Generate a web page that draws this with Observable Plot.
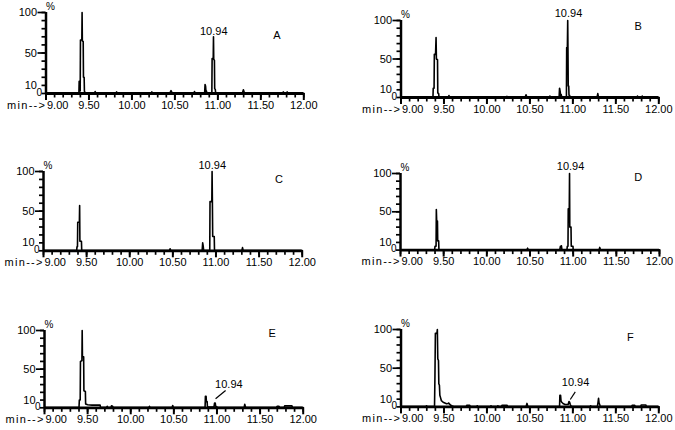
<!DOCTYPE html>
<html>
<head>
<meta charset="utf-8">
<script src="https://cdn.jsdelivr.net/npm/d3@7"></script>
<script src="https://cdn.jsdelivr.net/npm/@observablehq/plot@0.6"></script>
<style>
  body { margin: 0; background: #fff; }
  #chart { position: relative; width: 675px; height: 430px; overflow: hidden; background: #fff; }
  #chart svg { position: absolute; overflow: visible; }
</style>
</head>
<body>
<div id="chart"></div>
<script>
// ---------- data ----------
const panelLetters = ["A", "B", "C", "D", "E", "F"];
const xStartTick = 9.0;
const xLabelTicks = [9.5, 10.0, 10.5, 11.0, 11.5, 12.0];
const xMajorTicks = [9.0, 9.5, 10.0, 10.5, 11.0, 11.5, 12.0];
const xMinorTicks = [9.0, 9.1, 9.2, 9.3, 9.4, 9.5, 9.6, 9.7, 9.8, 9.9, 10.0, 10.1, 10.2, 10.3, 10.4, 10.5, 10.6, 10.7, 10.8, 10.9, 11.0, 11.1, 11.2, 11.3, 11.4, 11.5, 11.6, 11.7, 11.8, 11.9, 12.0];
const yLabelTicks = [10, 50, 100];
const yZeroTick = [0];
const yMajorTicks = [50, 100];
const yMinorTicks = [0, 10, 20, 30, 40, 50, 60, 70, 80, 90, 100];
const peakLabel = "10.94";
const xPrefix = "min-->";

// chromatogram traces: [retention time (min), relative abundance (%)]
const traceA = [[9.00,0.3],[9.383,0.3],[9.386,15],[9.392,15],[9.395,3],[9.398,3],[9.401,66],[9.417,66],[9.420,100],[9.423,65],[9.433,64],[9.436,20],[9.444,20],[9.447,3],[9.455,1],[9.463,0.3],
  [9.565,0.3],[9.572,2.5],[9.58,0.3],[9.815,0.3],[9.822,2],[9.83,0.3],[10.225,0.3],[10.232,2],[10.24,0.3],
  [10.44,0.3],[10.455,3.5],[10.47,0.3],[10.72,0.3],[10.728,2.5],[10.736,0.3],
  [10.846,0.5],[10.851,11],[10.857,9],[10.862,2],[10.867,3],[10.873,0.3],
  [10.930,0.5],[10.933,43],[10.946,43],[10.949,70],[10.952,42],[10.960,41],[10.963,6],[10.970,5],[10.974,1],[10.98,0.3],
  [11.285,0.3],[11.297,4.5],[11.31,0.3],[11.755,0.3],[11.762,2],[11.769,0.3],[11.80,0.3],[11.807,2],[11.814,0.3],[12.00,0.3]];

const traceB = [[9.00,0.3],[9.372,0.3],[9.375,12],[9.385,12],[9.388,56],[9.402,56],[9.408,78],[9.412,50],[9.425,49],[9.428,6],[9.438,5],[9.442,1],[9.45,0.3],
  [9.55,0.3],[9.558,2.5],[9.566,0.3],[10.225,0.3],[10.232,1.5],[10.24,0.3],[10.445,0.3],[10.455,3.5],[10.465,0.3],
  [10.725,0.3],[10.732,2],[10.74,0.3],[10.84,0.5],[10.845,12],[10.852,8],[10.858,2],[10.864,4],[10.87,0.5],
  [10.925,0.5],[10.928,65],[10.936,65],[10.940,100],[10.943,64],[10.946,15],[10.952,15],[10.955,3],[10.962,3],[10.965,0.3],
  [11.282,0.3],[11.29,5],[11.298,0.3],[11.745,0.3],[11.752,2],[11.759,0.3],[11.80,0.3],[11.807,2],[11.814,0.3],[12.00,0.3]];

const traceC = [[9.00,0.3],[9.385,0.3],[9.388,5],[9.394,5],[9.397,36],[9.416,36],[9.419,57],[9.422,12],[9.440,12],[9.443,1],[9.45,0.3],
  [10.46,0.3],[10.468,2.5],[10.476,0.3],[10.84,0.5],[10.846,10],[10.852,6],[10.857,1],[10.863,0.3],
  [10.928,0.5],[10.931,62],[10.952,62],[10.955,100],[10.958,68],[10.962,18],[10.980,18],[10.983,1],[10.99,0.3],
  [11.30,0.3],[11.308,4],[11.316,0.3],[12.00,0.3]];

const traceD = [[9.00,0.3],[9.395,0.3],[9.40,5],[9.412,5],[9.415,53],[9.419,38],[9.428,38],[9.431,12],[9.442,12],[9.445,1],[9.45,0.3],
  [10.465,0.3],[10.472,2.5],[10.48,0.3],[10.845,0.3],[10.852,5],[10.858,3],[10.864,5.5],[10.87,0.3],
  [10.928,0.3],[10.932,5],[10.94,5],[10.943,54],[10.955,54],[10.958,100],[10.961,30],[10.975,30],[10.978,5],[10.998,5],[11.0,0.3],
  [11.30,0.3],[11.308,3.5],[11.316,0.3],[12.00,0.3]];

const traceE = [[9.00,0.3],[9.40,0.3],[9.404,10],[9.414,10],[9.417,60],[9.434,61],[9.437,100],[9.440,66],[9.454,66],[9.457,22],[9.474,21],[9.477,5],[9.50,4],[9.55,3.5],[9.60,3.5],[9.645,3.5],[9.65,0.3],
  [9.72,0.3],[9.727,2],[9.734,0.3],[9.77,0.3],[9.777,2.5],[9.79,2],[9.797,0.3],[10.21,0.3],[10.217,2],[10.224,0.3],
  [10.48,0.3],[10.487,3],[10.494,0.3],
  [10.862,0.5],[10.866,15],[10.874,15],[10.877,8],[10.886,8],[10.889,2],[10.90,1],[10.965,1],[10.972,6],[10.980,6],[10.985,2],[11.0,1],[11.01,0.3],
  [11.315,0.3],[11.322,4.5],[11.33,1],[11.34,0.3],[11.69,0.3],[11.697,2],[11.72,2],[11.727,0.3],[11.78,0.3],[11.785,2.5],[11.87,2.5],[11.875,0.3],[12.00,0.3]];

const traceF = [[9.00,0.3],[9.29,0.3],[9.297,1.5],[9.304,0.3],[9.39,0.3],[9.395,40],[9.40,95],[9.418,95],[9.423,100],[9.428,62],[9.436,60],[9.44,30],[9.447,28],[9.452,15],[9.46,12],[9.47,8],[9.49,6],[9.51,5],[9.53,4],[9.545,4.5],[9.555,5],[9.565,3.5],[9.58,2],[9.60,1],[9.62,0.3],
  [9.76,0.3],[9.765,2],[9.80,2],[9.805,0.3],[9.88,0.3],[9.887,1.5],[9.894,0.3],[10.04,0.3],[10.047,1.5],[10.054,0.3],
  [10.12,0.3],[10.127,1.5],[10.134,0.3],[10.17,0.3],[10.175,2],[10.235,2],[10.24,0.3],[10.455,0.3],[10.466,4.5],[10.477,0.3],
  [10.845,0.5],[10.849,15],[10.857,15],[10.862,8],[10.87,6],[10.88,5],[10.89,4],[10.91,3],[10.945,3],[10.955,7],[10.962,6],[10.97,3],[10.98,1],[10.99,0.3],
  [11.2,0.3],[11.207,1.5],[11.214,0.3],[11.285,0.3],[11.293,6],[11.299,11],[11.305,5],[11.315,2],[11.325,0.3],
  [11.685,0.3],[11.69,2],[11.72,2],[11.725,0.3],[11.79,0.3],[11.795,2.5],[11.85,2.5],[11.855,0.3],[12.00,0.3]];

const traces = [traceA, traceB, traceC, traceD, traceE, traceF];

// annotation anchor points in data space [time, %]
const peakLabelPos = [[10.952, 76.5], [10.949, 109], [10.957, 107], [10.970, 108.7], [11.138, 30.1], [11.031, 31.5]];
const letterPos = [[11.687, 71.6], [11.760, 92.6], [11.730, 90.4], [11.754, 94.8], [11.640, 95.7], [11.669, 89.7]];
const leaderLines = [null, null, null, null, [10.984, 11.6, 11.10, 22.4], [10.97, 9.6, 11.028, 19.4]];

// ---------- layout (pixel geometry of each panel) ----------
const layout = [
  {left: 0,   x9: 45.5, x12: 303.3, y0: 93,    y100: 12},
  {left: 338, x9: 400.5, x12: 658.3, y0: 97,   y100: 20},
  {left: 0,   x9: 43,   x12: 301.7, y0: 250,   y100: 170.7},
  {left: 338, x9: 400,  x12: 659,   y0: 249.3, y100: 172.7},
  {left: 0,   x9: 44,   x12: 302.7, y0: 407.3, y100: 330},
  {left: 338, x9: 400.5, x12: 658.3, y0: 406.7, y100: 329.3}
];

const font = "'Liberation Sans', Arial, Helvetica, sans-serif";
const container = document.getElementById("chart");

function panel(i) {
  const g = layout[i];
  const W = 337, padTop = 22, padBottom = 24;
  const top = g.y100 - padTop;
  const height = (g.y0 - g.y100) + padTop + padBottom;
  const data = traces[i].map(([t, v]) => ({t, v}));
  const lp = peakLabelPos[i];
  const lt = letterPos[i];
  const marks = [
    Plot.axisX({ticks: xMinorTicks, tickSize: 4.5, tickFormat: () => "", strokeWidth: 1.7, label: null}),
    Plot.axisX({ticks: xMajorTicks, tickSize: 7, tickFormat: () => "", strokeWidth: 2, label: null}),
    Plot.axisY({ticks: yMinorTicks, tickSize: 4, tickFormat: () => "", strokeWidth: 1.7, label: null}),
    Plot.axisY({ticks: yMajorTicks, tickSize: 8, tickFormat: () => "", strokeWidth: 1.7, label: null}),
    Plot.line(data, {x: "t", y: "v", stroke: "#000", strokeWidth: 1.6}),
    Plot.ruleY([0], {stroke: "#000", strokeWidth: 2.8}),
    Plot.ruleX([9], {stroke: "#000", strokeWidth: 2.5}),
    Plot.text(xLabelTicks, {x: d => d, y: () => 0, dy: 11.5, text: d => d.toFixed(2), fontSize: 11}),
    Plot.text([xStartTick], {x: d => d, y: () => 0, dy: 11.5, dx: 1, textAnchor: "start", text: d => d.toFixed(2), fontSize: 11}),
    Plot.text([xStartTick], {x: d => d, y: () => 0, dy: 11.5, dx: -1, textAnchor: "end", text: () => xPrefix, fontSize: 11}),
    Plot.text(yLabelTicks, {x: () => 9, y: d => d, dx: -9, textAnchor: "end", text: d => String(d), fontSize: 11}),
    Plot.text(yZeroTick, {x: () => 9, y: d => d, dx: -4, dy: -1, textAnchor: "end", text: d => String(d), fontSize: 10}),
    Plot.text(["%"], {x: () => 9, y: () => 100, dx: 0, dy: -6, textAnchor: "start", text: d => d, fontSize: 10}),
    Plot.text([peakLabel], {x: () => lp[0], y: () => lp[1], text: d => d, fontSize: 11}),
    Plot.text([panelLetters[i]], {x: () => lt[0], y: () => lt[1], text: d => d, fontSize: 11})
  ];
  if (leaderLines[i]) {
    marks.push(Plot.link([leaderLines[i]], {x1: d => d[0], y1: d => d[1], x2: d => d[2], y2: d => d[3], stroke: "#000", strokeWidth: 1.2}));
  }
  const svg = Plot.plot({
    width: W,
    height,
    marginLeft: g.x9 - g.left,
    marginRight: g.left + W - g.x12,
    marginTop: padTop,
    marginBottom: padBottom,
    x: {domain: [9, 12], axis: null},
    y: {domain: [0, 100], axis: null},
    style: {fontFamily: font, fontSize: "11px", background: "transparent", overflow: "visible", color: "#000"},
    marks
  });
  // stretch the "min-->" prefix to the width it has in the reference
  svg.querySelectorAll("text").forEach(t => {
    if (t.textContent === xPrefix) {
      t.setAttribute("textLength", 38);
      t.setAttribute("lengthAdjust", "spacing");
    }
  });
  svg.style.left = g.left + "px";
  svg.style.top = top + "px";
  container.appendChild(svg);
}

for (let i = 0; i < 6; i++) panel(i);
</script>
</body>
</html>
